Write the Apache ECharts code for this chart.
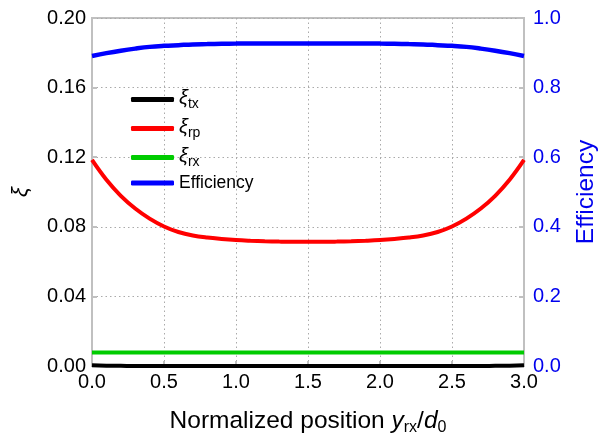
<!DOCTYPE html>
<html>
<head>
<meta charset="utf-8">
<script src="https://cdn.jsdelivr.net/npm/echarts@6/dist/echarts.min.js"></script>
<style>html,body{margin:0;padding:0;background:#fff}#c{width:610px;height:438px}</style>
</head>
<body>
<div id="c"></div>
<script>
var positions = [0.0,0.1,0.2,0.3,0.4,0.5,0.6,0.7,0.8,0.9,1.0,1.1,1.2,1.3,1.4,1.5,1.6,1.7,1.8,1.9,2.0,2.1,2.2,2.3,2.4,2.5,2.6,2.7,2.8,2.9,3.0];
var xiTx = [0.0005,0.0002,0.0001,0,0,0,0,0,0,0,0,0,0,0,0,0,0,0,0,0,0,0,0,0,0,0,0,0,0.0001,0.0002,0.0005];
var xiRp = [0.1184,0.1070,0.0978,0.0905,0.0847,0.0802,0.0770,0.0750,0.0738,0.0730,0.0724,0.0720,0.0717,0.0715,0.0714,0.0714,0.0714,0.0715,0.0717,0.0720,0.0724,0.0730,0.0738,0.0750,0.0770,0.0802,0.0847,0.0905,0.0978,0.1070,0.1184];
var xiRx = [0.0077,0.0077,0.0077,0.0077,0.0077,0.0077,0.0077,0.0077,0.0077,0.0077,0.0077,0.0077,0.0077,0.0077,0.0077,0.0077,0.0077,0.0077,0.0077,0.0077,0.0077,0.0077,0.0077,0.0077,0.0077,0.0077,0.0077,0.0077,0.0077,0.0077,0.0077];
var efficiency = [0.891,0.899,0.906,0.912,0.917,0.920,0.922,0.924,0.925,0.926,0.9265,0.927,0.927,0.927,0.927,0.927,0.927,0.927,0.927,0.927,0.9265,0.926,0.925,0.924,0.922,0.920,0.917,0.912,0.906,0.899,0.891];
var seriesNames = ['ξtx','ξrp','ξrx','Efficiency'];

function pairs(ys){ return positions.map(function(x,i){ return [x, ys[i]]; }); }
var FF = '"Liberation Sans", Arial, sans-serif';
var chart = echarts.init(document.getElementById('c'));
var gray = '#c0c0c0';
chart.setOption({
  animation: false,
  textStyle: {fontFamily: FF},
  grid: {left: 92, right: 86, top: 18, bottom: 72, show: true, borderColor: gray, borderWidth: 2, containLabel: false, outerBoundsMode: 'none'},
  legend: {
    orient: 'vertical', left: 126, top: 82,
    icon: 'roundRect', itemWidth: 43, itemHeight: 5, itemGap: 5,
    data: seriesNames,
    formatter: function(n){ return n === 'Efficiency' ? '{t|Efficiency}' : '{g|ξ}{s|' + n.slice(1) + '}'; },
    textStyle: {
      color: '#000', fontFamily: FF,
      rich: {
        t: {fontSize: 17.5, fontFamily: FF, color: '#000', lineHeight: 23},
        g: {fontSize: 20, fontFamily: FF, color: '#000', lineHeight: 23, fontStyle: 'italic', verticalAlign: 'top'},
        s: {fontSize: 14, fontFamily: FF, color: '#000', lineHeight: 23, verticalAlign: 'bottom', padding: [10,0,0,0]}
      }
    }
  },
  xAxis: {
    type: 'value', min: 0, max: 3, interval: 0.5,
    name: '{a|Normalized position }{i|y}{s|rx}{a|/}{i|d}{s|0}',
    nameLocation: 'middle', nameGap: 40,
    nameTextStyle: {
      rich: {
        a: {fontSize: 24.5, fontFamily: FF, color: '#000', lineHeight: 30},
        i: {fontSize: 24.5, fontFamily: FF, color: '#000', fontStyle: 'italic', lineHeight: 30},
        s: {fontSize: 16, fontFamily: FF, color: '#000', lineHeight: 30, verticalAlign: 'bottom', padding: [13,0,0,0]}
      }
    },
    axisLine: {show: true, lineStyle: {color: gray, width: 2}},
    axisTick: {show: true, inside: true, length: 5, lineStyle: {color: gray, width: 2}},
    axisLabel: {color: '#000', fontSize: 20, fontFamily: FF, margin: 6, formatter: function(v){ return v.toFixed(1); }},
    splitLine: {show: true, lineStyle: {color: '#aaa', type: [1.5, 3], width: 1}}
  },
  yAxis: [
    {
      type: 'value', min: 0, max: 0.2, interval: 0.04, position: 'left',
      name: 'ξ', nameLocation: 'middle', nameGap: 60, nameRotate: 90,
      nameTextStyle: {color: '#000', fontSize: 22, fontStyle: 'italic', fontFamily: FF},
      axisLine: {show: true, lineStyle: {color: gray, width: 2}},
      axisTick: {show: true, inside: true, length: 5, lineStyle: {color: gray, width: 2}},
      axisLabel: {color: '#000', fontSize: 20, fontFamily: FF, margin: 6, formatter: function(v){ return v.toFixed(2); }},
      splitLine: {show: true, lineStyle: {color: '#aaa', type: [1.5, 3], width: 1}}
    },
    {
      type: 'value', min: 0, max: 1, interval: 0.2, position: 'right',
      name: 'Efficiency', nameLocation: 'middle', nameGap: 50, nameRotate: 90,
      nameTextStyle: {color: '#0000ee', fontSize: 24.5, fontFamily: FF},
      axisLine: {show: true, lineStyle: {color: gray, width: 2}},
      axisTick: {show: true, inside: true, length: 5, lineStyle: {color: gray, width: 2}},
      axisLabel: {color: '#0000ee', fontSize: 20, fontFamily: FF, margin: 9, formatter: function(v){ return v.toFixed(1); }},
      splitLine: {show: false}
    }
  ],
  series: [
    {name: seriesNames[0], type: 'line', data: pairs(xiTx), yAxisIndex: 0, showSymbol: false, smooth: true, clip: false, z: 5,
     lineStyle: {color: '#000', width: 4}, itemStyle: {color: '#000'}},
    {name: seriesNames[1], type: 'line', data: pairs(xiRp), yAxisIndex: 0, showSymbol: false, smooth: 0.4,
     lineStyle: {color: '#ff0000', width: 4}, itemStyle: {color: '#ff0000'}},
    {name: seriesNames[2], type: 'line', data: pairs(xiRx), yAxisIndex: 0, showSymbol: false,
     lineStyle: {color: '#00cc00', width: 4}, itemStyle: {color: '#00cc00'}},
    {name: seriesNames[3], type: 'line', data: pairs(efficiency), yAxisIndex: 1, showSymbol: false, smooth: 0.4,
     lineStyle: {color: '#0000ff', width: 4.5}, itemStyle: {color: '#0000ff'}}
  ]
});
</script>
</body>
</html>
